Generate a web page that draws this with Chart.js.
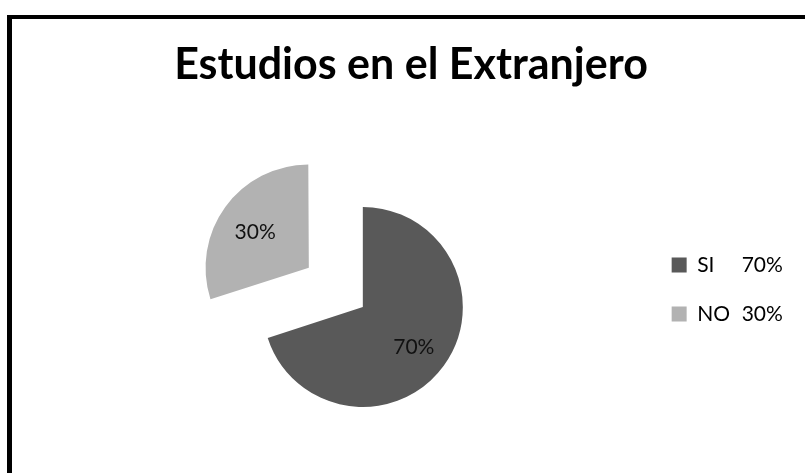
<!DOCTYPE html>
<html>
<head>
<meta charset="utf-8">
<script src="https://cdn.jsdelivr.net/npm/chart.js@4/dist/chart.umd.min.js"></script>
<style>
  html, body { margin: 0; padding: 0; background: #fff; }
  body { width: 805px; height: 473px; overflow: hidden; position: relative; }
  .marco {
    position: absolute; left: 7px; top: 15px; width: 900px; height: 600px;
    border-left: 5px solid #000; border-top: 4px solid #000;
  }
  #grafico { position: absolute; left: 0; top: 0; }
</style>
</head>
<body>
<div class="marco"></div>
<canvas id="grafico" width="805" height="473"></canvas>
<script>
const titulo = "Estudios en el Extranjero";
const categorias = ["SI", "NO"];
const valores = [70, 30];
const colores = ["#595959", "#b2b2b2"];

const total = valores.reduce((a, b) => a + b, 0);
const porcentaje = (v) => Math.round((v / total) * 100) + "%";

// porcentajes dentro de cada sector y junto a la leyenda
const etiquetas = {
  id: "etiquetas",
  afterDraw(chart) {
    const ctx = chart.ctx;
    const meta = chart.getDatasetMeta(0);
    ctx.save();
    ctx.font = "21px Lato";
    ctx.fillStyle = "#111";
    ctx.textAlign = "center";
    ctx.textBaseline = "middle";
    meta.data.forEach((arc, i) => {
      const p = arc.getProps(["x", "y", "startAngle", "endAngle", "outerRadius", "circumference"], true);
      const mid = (p.startAngle + p.endAngle) / 2;
      const off = (arc.options.offset || 0) / 4;
      const shift = off * (2 - Math.sin(Math.min(Math.PI, p.circumference)));
      const d = p.outerRadius * 0.63 + shift;
      ctx.fillText(porcentaje(valores[i]), p.x + Math.cos(mid) * d, p.y + Math.sin(mid) * d + 3);
    });
    // columna de porcentajes de la leyenda
    ctx.textAlign = "left";
    ctx.fillStyle = "#000";
    chart.legend.legendHitBoxes.forEach((hb, i) => {
      ctx.fillText(porcentaje(valores[i]), hb.left + 70, hb.top + hb.height / 2);
    });
    ctx.restore();
  }
};

const ctx = document.getElementById("grafico").getContext("2d");

new Chart(ctx, {
  type: "pie",
  data: {
    labels: categorias,
    datasets: [
      {
        data: valores,
        backgroundColor: colores,
        borderWidth: 0,
        offset: [0, 267],
        hoverOffset: 0,
        radius: 100,
        cutout: "0%",
        clip: false,
      },
    ],
  },
  options: {
    responsive: false,
    maintainAspectRatio: false,
    devicePixelRatio: 1,
    animation: false,
    events: [],
    layout: {
      padding: { left: 82, right: 65, top: 0, bottom: 85.5 },
    },
    plugins: {
      tooltip: { enabled: false },
      title: {
        display: true,
        text: titulo,
        color: "#000",
        font: { family: "Lato", size: 43, weight: "bold", lineHeight: 1.2 },
        padding: { top: 39.8, bottom: 135.1 },
      },
      legend: {
        display: true,
        position: "right",
        align: "start",
        fullSize: false,
        labels: {
          boxWidth: 15,
          boxHeight: 15,
          padding: 28,
          color: "#000",
          font: { family: "Lato", size: 21 },
        },
      },
    },
  },
  plugins: [etiquetas],
});
</script>
</body>
</html>
